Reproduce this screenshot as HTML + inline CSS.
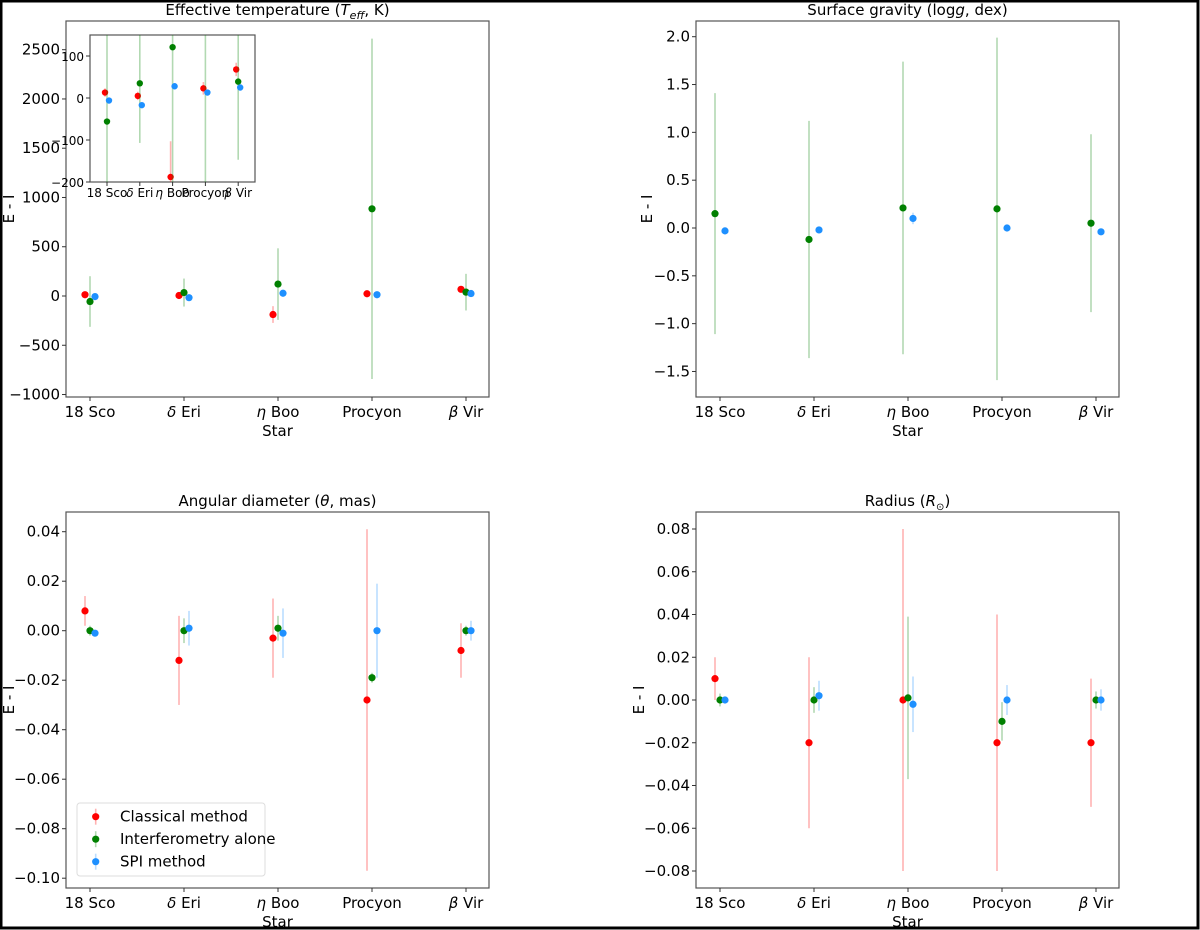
<!DOCTYPE html>
<html><head><meta charset="utf-8"><style>
html,body{margin:0;padding:0;background:#fff}
svg{display:block}
text{font-family:"DejaVu Sans","Liberation Sans",sans-serif;fill:#000}
</style></head><body>
<svg id="fig" width="1200" height="930" viewBox="0 0 1200 930" xmlns="http://www.w3.org/2000/svg">
<rect x="1" y="1" width="1197" height="927" fill="#fff" stroke="#000" stroke-width="3"/>
</svg>
<script>
const stars = ["18 Sco","δ Eri","η Boo","Procyon","β Vir"];
const starItalic = ["","δ","η","","β"];
// Teff
const teffClassical = [13, 5, -188, 23, 68];
const teffClassicalErr = [10, 10, 85, 15, 16];
const teffInterf = [-56, 35, 121, 885, 39];
const teffInterfErr = [257, 142, 363, 1728, 186];
const teffSPI = [-6, -17, 28, 13, 25];
const teffSPIErr = [4, 4, 5, 4, 4];
const teffTicks = [-1000,-500,0,500,1000,1500,2000,2500];
const insetTicks = [-200,-100,0,100];
// logg
const loggInterf = [0.15, -0.12, 0.21, 0.20, 0.05];
const loggInterfErr = [1.26, 1.24, 1.53, 1.79, 0.93];
const loggSPI = [-0.03, -0.02, 0.10, 0.0, -0.04];
const loggSPIErr = [0.01, 0.01, 0.06, 0.01, 0.02];
const loggTicks = [-1.5,-1.0,-0.5,0.0,0.5,1.0,1.5,2.0];
// theta
const thClassical = [0.008, -0.012, -0.003, -0.028, -0.008];
const thClassicalErr = [0.006, 0.018, 0.016, 0.069, 0.011];
const thInterf = [0.0, 0.0, 0.001, -0.019, 0.0];
const thInterfErr = [0.002, 0.005, 0.005, 0.002, 0.002];
const thSPI = [-0.001, 0.001, -0.001, 0.0, 0.0];
const thSPIErr = [0.001, 0.007, 0.010, 0.019, 0.004];
const thTicks = [-0.10,-0.08,-0.06,-0.04,-0.02,0.00,0.02,0.04];
// radius
const rClassical = [0.010, -0.020, 0.0, -0.020, -0.020];
const rClassicalErr = [0.010, 0.040, 0.080, 0.060, 0.030];
const rInterf = [0.0, 0.0, 0.001, -0.010, 0.0];
const rInterfErr = [0.003, 0.006, 0.038, 0.009, 0.004];
const rSPI = [0.0, 0.002, -0.002, 0.0, 0.0];
const rSPIErr = [0.001, 0.007, 0.013, 0.007, 0.005];
const rTicks = [-0.08,-0.06,-0.04,-0.02,0.00,0.02,0.04,0.06,0.08];

const NS="http://www.w3.org/2000/svg";
const svg=document.getElementById('fig');
const RED="#ff0000", GREEN="#008000", BLUE="#1e90ff";
function mk(tag,attrs,parent){const e=document.createElementNS(NS,tag);for(const k in attrs)e.setAttribute(k,attrs[k]);(parent||svg).appendChild(e);return e;}

function starLabel(g,x,y,i,fs){
  const t=mk('text',{x:x,y:y,'font-size':fs,'text-anchor':'middle'},g);
  
  
  if(starItalic[i]){
    const a=mk('tspan',{'font-style':'italic'},t);a.textContent=starItalic[i];
    const b=mk('tspan',{},t);b.textContent=stars[i].slice(1);
  } else t.textContent=stars[i];
}

function panel(o){
  const g=mk('g',{});
  
  
  const X0=o.x0,X1=o.x1,Y0=o.y0,Y1=o.y1;
  const xs=i=>o.xt0+i*o.xstep;
  const ys=v=>o.py0+(v-o.v0)*(o.py1-o.py0)/(o.v1-o.v0);
  const fr=mk('rect',{x:X0,y:Y0,width:X1-X0,height:Y1-Y0,fill:'#fff',stroke:'#555','stroke-width':1.2},g);
  
  
  o.ticks.forEach(v=>{
    const y=ys(v);
    mk('line',{x1:X0-4,x2:X0,y1:y,y2:y,stroke:'#333'},g);
    const t=mk('text',{x:X0-6,y:y+5,'font-size':o.fs||15,'text-anchor':'end'},g);
    
    
    t.textContent=o.fmt(v).replace('-','−');
  });
  stars.forEach((s,i)=>{
    const x=xs(i);
    mk('line',{x1:x,x2:x,y1:Y1,y2:Y1+4,stroke:'#333'},g);
    starLabel(g,x,Y1+(o.fs?15:20),i,o.fs||15);
  });
  o.series.forEach(se=>{
    se.v.forEach((v,i)=>{
      const x=xs(i)+se.off;
      const eb=mk('line',{x1:x,x2:x,y1:Math.max(Y0,ys(v+se.e[i])),y2:Math.min(Y1,ys(v-se.e[i])),stroke:se.c,'stroke-width':1.6,'stroke-opacity':0.3},g);
      
      
      const y=ys(v);
      if(y>=Y0-1&&y<=Y1+1){
        const p=mk('circle',{cx:x,cy:y,r:o.r||3.6,fill:se.c},g);
        
        
      }
    });
  });
  if(o.title){
    const t=mk('text',{x:(X0+X1)/2,y:Y0-6,'font-size':15,'text-anchor':'middle'},g);
    
    
    o.title(t);
  }
  if(o.xlabel){
    const t=mk('text',{x:(X0+X1)/2,y:Y1+39,'font-size':15,'text-anchor':'middle'},g);
    
    
    t.textContent='Star';
    const yl=mk('text',{x:0,y:0,'font-size':15,'text-anchor':'middle',transform:`translate(${o.ylx},${(Y0+Y1)/2}) rotate(-90)`},g);
    
    
    yl.textContent='E - I';
  }
  return g;
}
function titleParts(t,parts){parts.forEach(p=>{const s=mk('tspan',p[1]||{},t);s.textContent=p[0];});}

panel({name:'teff-panel',x0:66,x1:489,y0:21,y1:397,xt0:90,xstep:94,py0:296,py1:49.7,v0:0,v1:2500,ticks:teffTicks,fmt:v=>String(v),ylx:14,xlabel:true,
 title:t=>titleParts(t,[['Effective temperature ('],['T',{'font-style':'italic'}],['eff',{'font-style':'italic','font-size':11,dy:4}],[', K)',{dy:-4}]]),
 series:[{v:teffClassical,e:teffClassicalErr,c:RED,off:-5},{v:teffInterf,e:teffInterfErr,c:GREEN,off:0},{v:teffSPI,e:teffSPIErr,c:BLUE,off:5}]});
panel({name:'teff-inset',x0:90,x1:255,y0:35,y1:182,xt0:107,xstep:32.8,py0:98,py1:56,v0:0,v1:100,ticks:insetTicks,fmt:v=>String(v),fs:12,r:3.2,
 series:[{v:teffClassical,e:teffClassicalErr,c:RED,off:-2},{v:teffInterf,e:teffInterfErr,c:GREEN,off:0},{v:teffSPI,e:teffSPIErr,c:BLUE,off:2}]});
panel({name:'logg-panel',x0:696,x1:1119,y0:21,y1:397,xt0:720,xstep:94,py0:228,py1:36.7,v0:0,v1:2,ticks:loggTicks,fmt:v=>v.toFixed(1),ylx:652,xlabel:true,
 title:t=>titleParts(t,[['Surface gravity (log'],['g',{'font-style':'italic'}],[', dex)']]),
 series:[{v:loggInterf,e:loggInterfErr,c:GREEN,off:-5},{v:loggSPI,e:loggSPIErr,c:BLUE,off:5}]});
panel({name:'theta-panel',x0:66,x1:489,y0:512,y1:888,xt0:90,xstep:94,py0:630.7,py1:531.7,v0:0,v1:0.04,ticks:thTicks,fmt:v=>v.toFixed(2),ylx:14,xlabel:true,
 title:t=>titleParts(t,[['Angular diameter ('],['θ',{'font-style':'italic'}],[', mas)']]),
 series:[{v:thClassical,e:thClassicalErr,c:RED,off:-5},{v:thInterf,e:thInterfErr,c:GREEN,off:0},{v:thSPI,e:thSPIErr,c:BLUE,off:5}]});
panel({name:'radius-panel',x0:696,x1:1119,y0:512,y1:888,xt0:720,xstep:94,py0:700,py1:529,v0:0,v1:0.08,ticks:rTicks,fmt:v=>v.toFixed(2),ylx:644,xlabel:true,
 title:t=>titleParts(t,[['Radius ('],['R',{'font-style':'italic'}],['⊙',{'font-size':10,dy:4}],[')',{dy:-4}]]),
 series:[{v:rClassical,e:rClassicalErr,c:RED,off:-5},{v:rInterf,e:rInterfErr,c:GREEN,off:0},{v:rSPI,e:rSPIErr,c:BLUE,off:5}]});

// legend
const lg=mk('g',{});


mk('rect',{x:77,y:803,width:188,height:73,rx:3,fill:'#fff','fill-opacity':0.85,stroke:'#ddd'},lg);
[['Classical method',RED],['Interferometry alone',GREEN],['SPI method',BLUE]].forEach((e,i)=>{
  const y=816.7+i*22.5;
  const en=mk('g',{},lg);
  
  
  mk('line',{x1:95.7,x2:95.7,y1:y-8,y2:y+8,stroke:e[1],'stroke-opacity':0.3,'stroke-width':1.6},en);
  mk('circle',{cx:95.7,cy:y,r:3.6,fill:e[1]},en);
  const t=mk('text',{x:120,y:y+5,'font-size':15},en);
  t.textContent=e[0];
});
</script>
</body></html>
